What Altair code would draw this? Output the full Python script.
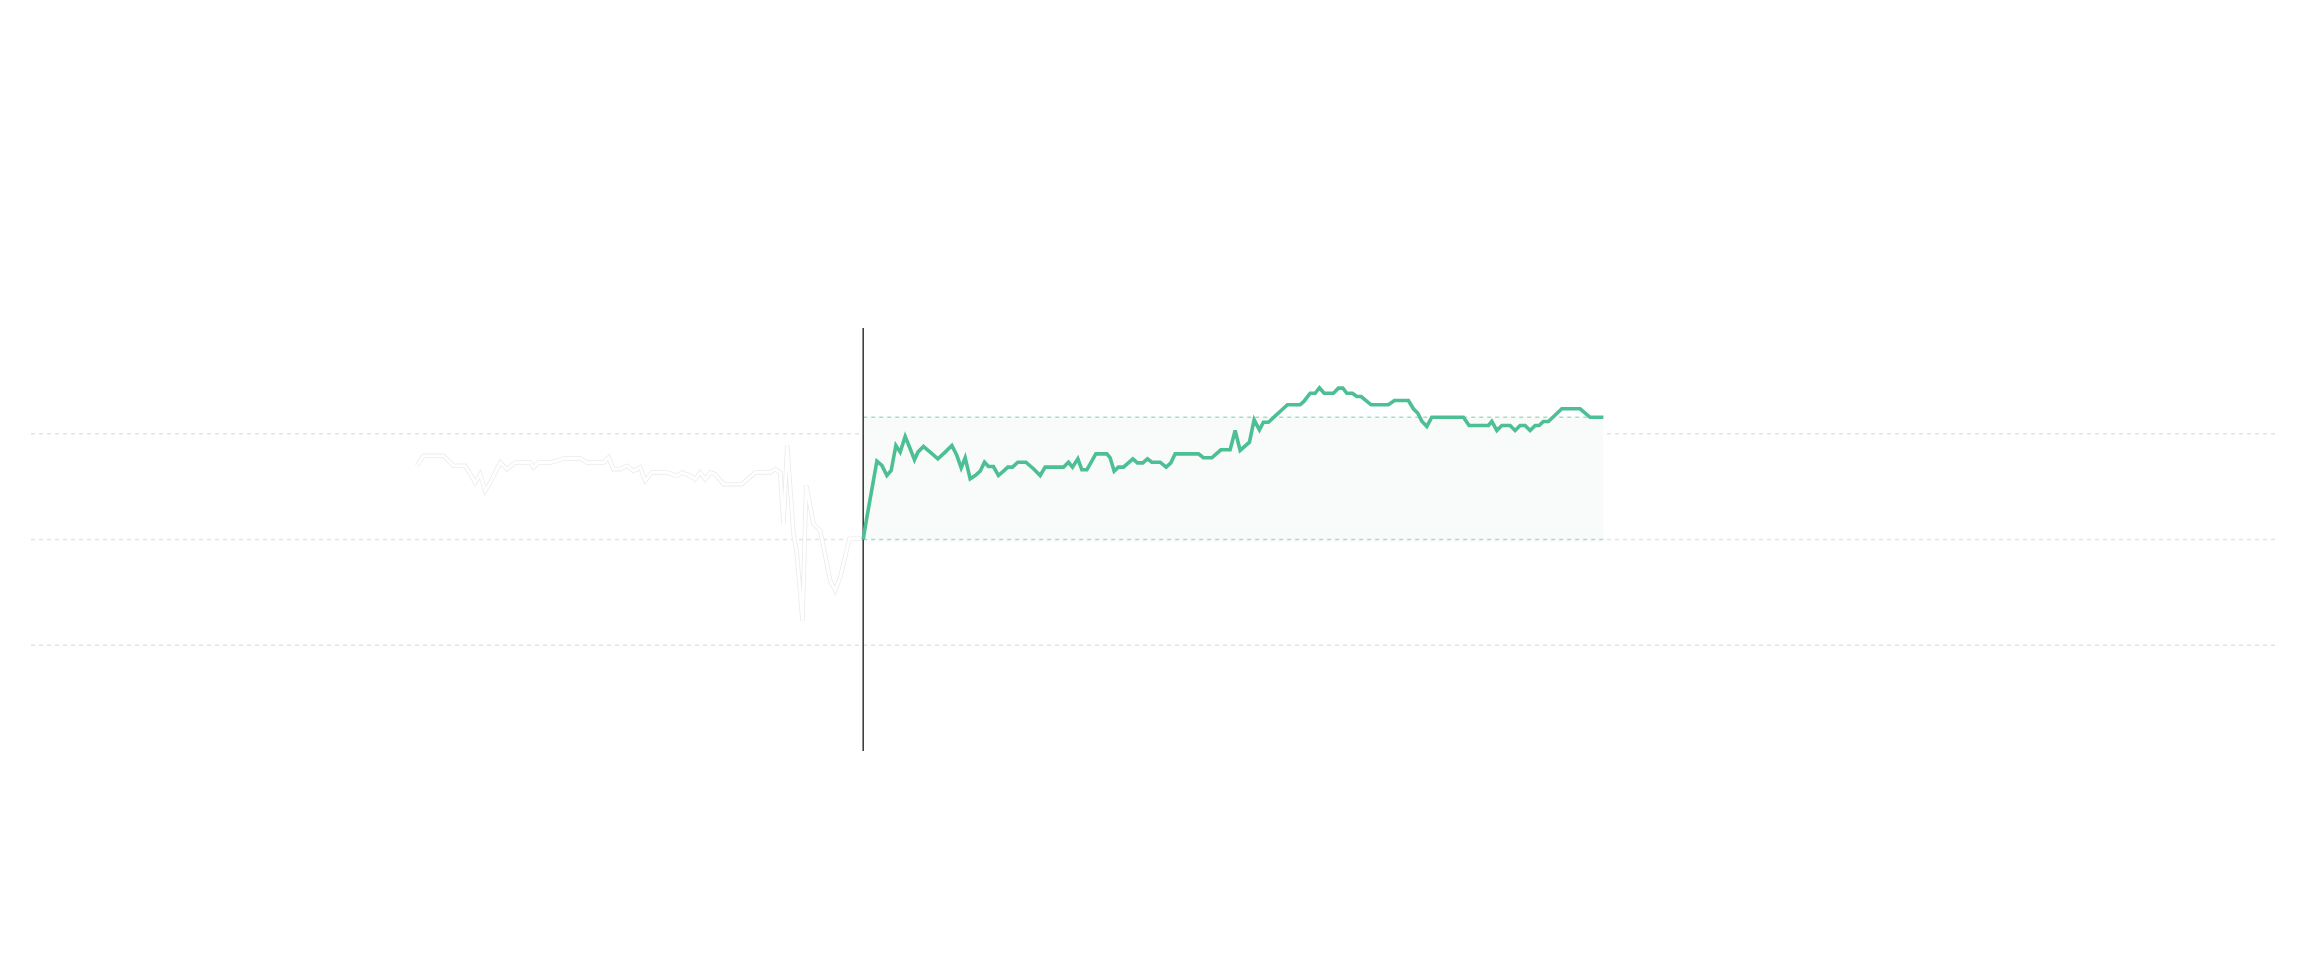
import altair as alt
import pandas as pd

# ---- data (time index t, value v in %) ----
green_t = [0, 0.74, 2.74, 3.74, 4.74, 5.6, 6.54, 7.4, 8.4, 9.4, 10.26, 10.94, 12.06, 13.4,
           14.94, 16.4, 17.74, 18.74, 19.6, 20.4, 21.4, 22.4, 23.4, 24.26, 25.06, 26.06,
           27.06, 28.06, 28.94, 29.86, 30.94, 32.54, 34.06, 35.4, 36.4, 40.06, 41.06, 41.86,
           42.94, 43.74, 44.74, 46.54, 48.74, 49.4, 50.2, 51.06, 52.06, 53.94, 54.86, 55.94,
           56.86, 57.74, 59.4, 60.6, 61.54, 62.4, 67.06, 68.06, 69.74, 71.54, 73.4, 74.4,
           75.4, 77.26, 78.2, 79.26, 80.06, 81.06, 84.86, 87.4, 88.2, 89.4, 90.4, 91.26,
           92.2, 94.06, 95.06, 95.94, 96.74, 97.86, 98.74, 99.6, 101.6, 105.06, 106.26,
           109.06, 110.06, 110.94, 111.74, 112.74, 113.74, 120.06, 121.2, 125.06, 125.74,
           126.74, 127.74, 129.4, 130.4, 131.4, 132.4, 133.4, 134.4, 135.2, 136.06, 137.06,
           139.74, 143.4, 145.4, 148.06]
green_v = [0, 2.11, 7.40, 7.00, 6.05, 6.52, 8.89, 8.26, 9.74, 8.58, 7.54, 8.26, 8.79, 8.26,
           7.63, 8.26, 8.89, 7.94, 6.78, 7.73, 5.74, 6.05, 6.46, 7.31, 6.90, 6.90,
           6.05, 6.46, 6.84, 6.84, 7.31, 7.31, 6.69, 6.05, 6.84, 6.84, 7.31, 6.84,
           7.63, 6.59, 6.59, 8.10, 8.10, 7.73, 6.46, 6.84, 6.84, 7.63, 7.25, 7.25,
           7.63, 7.31, 7.31, 6.84, 7.25, 8.10, 8.10, 7.73, 7.73, 8.48, 8.48, 10.31,
           8.42, 9.20, 11.32, 10.37, 11.09, 11.09, 12.74, 12.74, 13.08, 13.83, 13.83, 14.35,
           13.83, 13.83, 14.31, 14.31, 13.83, 13.83, 13.52, 13.52, 12.74, 12.74, 13.14,
           13.14, 12.36, 11.94, 11.19, 10.69, 11.56, 11.56, 10.78, 10.78, 11.16,
           10.31, 10.78, 10.78, 10.31, 10.78, 10.78, 10.31, 10.78, 10.78, 11.16, 11.16,
           12.36, 12.36, 11.56, 11.56]

ghost_t = [-89.26, -87.94, -83.94, -81.94, -79.6, -77.6, -76.6, -75.6, -74.6, -72.6, -71.26,
           -69.6, -66.6, -65.94, -64.94, -62.6, -61.26, -59.94, -56.6, -55.26, -51.94,
           -50.94, -49.94, -48.6, -47.26, -45.94, -44.6, -43.6, -42.26, -39.26, -37.26,
           -36.26, -34.6, -33.6, -32.6, -31.6, -30.6, -29.6, -27.94, -24.26, -21.6, -18.6,
           -17.6, -16.6, -15.94, -15.2, -13.94, -13.26, -12.14, -11.4, -9.94, -8.6, -6.6,
           -5.6, -4.6, -2.74, -0.26, 0]
ghost_v = [6.97, 7.91, 7.91, 6.97, 6.97, 5.39, 6.17, 4.61, 5.39, 7.28, 6.65,
           7.28, 7.28, 6.81, 7.28, 7.28, 7.44, 7.66, 7.66, 7.28, 7.28,
           7.75, 6.65, 6.65, 6.97, 6.50, 6.81, 5.55, 6.34, 6.34, 6.02,
           6.34, 6.02, 5.70, 6.34, 5.70, 6.34, 6.17, 5.23, 5.23, 6.34, 6.34,
           6.65, 6.34, 1.48, 8.89, 0.54, -1.35, -7.66, 5.11, 1.48, 0.85, -3.88,
           -4.82, -3.56, 0.07, 0.07, 0]

grid_values = [-10, 0, 10]
x_domain = [-167.26, 282.4]
y_domain = [-20, 20]

green = pd.DataFrame({"t": green_t, "v": green_v})
ghost = pd.DataFrame({"t": ghost_t, "v": ghost_v})
grid = pd.DataFrame({"g": grid_values})
final_v = green_v[-1]
band = pd.DataFrame({"t0": [0], "t1": [green_t[-1]], "v0": [0], "v1": [final_v]})
now = pd.DataFrame({"t": [0]})

xs = alt.Scale(domain=x_domain, nice=False, zero=False)
ys = alt.Scale(domain=y_domain, nice=False, zero=False)
X = lambda f: alt.X(f, type="quantitative", scale=xs, axis=None)
Y = lambda f: alt.Y(f, type="quantitative", scale=ys, axis=None)

GREEN = "#4dbf94"

grid_layer = alt.Chart(grid).mark_rule(color="#e3e3e3", strokeWidth=1.5, strokeDash=[4, 4]).encode(
    y=Y("g"))

band_layer = alt.Chart(band).mark_rect(color="#f8fbfa").encode(
    x=X("t0"), x2="t1", y=Y("v0"), y2="v1")

band_top = alt.Chart(band).mark_rule(color="#a9dcc8", strokeWidth=1.5, strokeDash=[4, 4]).encode(
    x=X("t0"), x2="t1", y=Y("v1"))
band_bot = alt.Chart(band).mark_rule(color="#a9dcc8", strokeWidth=1.5, strokeDash=[4, 4]).encode(
    x=X("t0"), x2="t1", y=Y("v0"))

ghost_outer = alt.Chart(ghost).mark_line(color="#ececec", strokeWidth=4.5, strokeJoin="miter").encode(
    x=X("t"), y=Y("v"), order="t:Q")
ghost_inner = alt.Chart(ghost).mark_line(color="#ffffff", strokeWidth=2.8, strokeJoin="miter").encode(
    x=X("t"), y=Y("v"), order="t:Q")

now_layer = alt.Chart(now).mark_rule(color="#333333", strokeWidth=1.5).encode(x=X("t"))

green_layer = alt.Chart(green).mark_line(color=GREEN, strokeWidth=3.6, strokeJoin="miter").encode(
    x=X("t"), y=Y("v"), order="t:Q")

chart = alt.layer(
    grid_layer, band_layer, band_top, band_bot, ghost_outer, ghost_inner, now_layer, green_layer
).properties(
    width=2248, height=423,
    padding={"left": 27, "top": 328, "right": 33, "bottom": 209},
    autosize="none",
    background="#ffffff",
).configure_view(stroke=None)

chart.save("out.html", embed_options={"renderer": "svg", "actions": False})
